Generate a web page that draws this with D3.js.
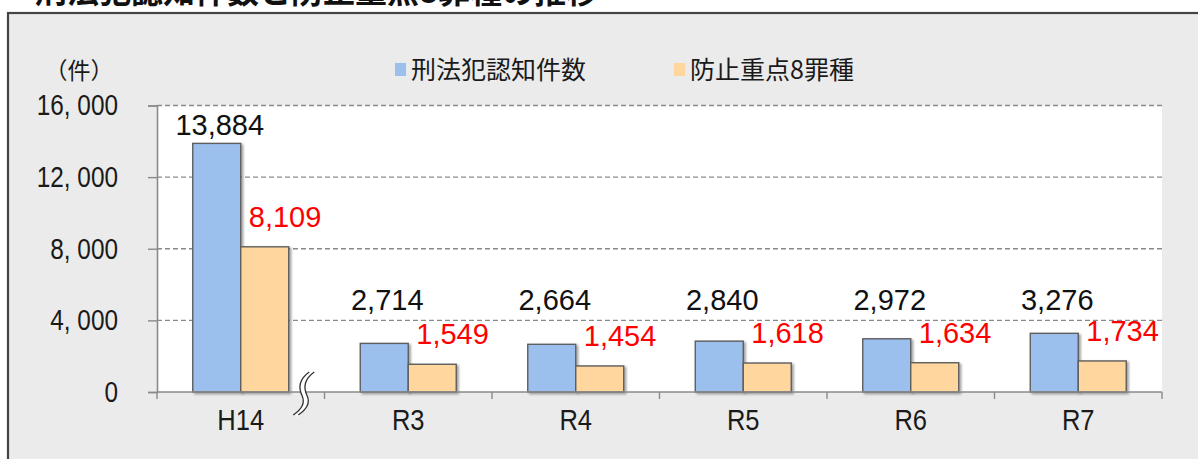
<!DOCTYPE html>
<html lang="ja">
<head>
<meta charset="UTF-8" />
<title>刑法犯認知件数と防止重点8罪種の推移</title>
<script src="https://d3js.org/d3.v7.min.js"></script>
<style>
body {
    margin: 0;
    padding: 0;
    background: #fff;
}
svg {
    display: block;
}
.jp {
    font-family: "Noto Sans CJK JP", sans-serif;
}
.num {
    font-family: "Liberation Sans", Arial, sans-serif;
}
.lbl {
    font-family: "Liberation Sans", Arial, sans-serif;
}
</style>
</head>
<body>
<svg id="chart" width="1198" height="459"></svg>

<script>
// data
const categories = ["H14", "R3", "R4", "R5", "R6", "R7"];
const seriesNames = ["刑法犯認知件数", "防止重点8罪種"];
const totalCases = [13884, 2714, 2664, 2840, 2972, 3276];
const keyCrimes = [8109, 1549, 1454, 1618, 1634, 1734];
const yTicks = [0, 4000, 8000, 12000, 16000];
const yTickLabels = ["0", "4, 000", "8, 000", "12, 000", "16, 000"];

const colors = ["#9cc0ee", "#fed69e"];
const fmt = d3.format(",");

const svg = d3.select("#chart");
const W = 1198, H = 459;

// squeeze a text horizontally (the original uses a narrow gothic face)
function condense(sel, k) {
    sel.each(function () {
        const len = this.getComputedTextLength();
        d3.select(this)
            .attr("textLength", len * k)
            .attr("lengthAdjust", "spacingAndGlyphs");
    });
}

// frame background
svg.append("rect")
    .attr("x", 8).attr("y", 13)
    .attr("width", W + 10).attr("height", H)
    .attr("fill", "#ebebeb")
    .attr("stroke", "#444")
    .attr("stroke-width", 2.2);

// title (cut off at top, as in the source image)
svg.append("text")
    .attr("class", "jp")
    .attr("x", 35).attr("y", 3)
    .attr("font-size", 32).attr("font-weight", "bold")
    .attr("fill", "#111")
    .text("刑法犯認知件数と防止重点8罪種の推移");

const plot = { left: 157, right: 1162, top: 105.5, bottom: 392 };

const x = d3.scaleBand()
    .domain(categories)
    .range([plot.left, plot.right]);

const xs = d3.scaleBand()
    .domain([0, 1])
    .range([0, x.bandwidth()])
    .paddingOuter(0.745);

const y = d3.scaleLinear()
    .domain([0, 16000])
    .range([plot.bottom, plot.top]);

// shadow for bars
const defs = svg.append("defs");
const f = defs.append("filter").attr("id", "shadow")
    .attr("x", "-20%").attr("y", "-20%").attr("width", "140%").attr("height", "140%");
f.append("feDropShadow")
    .attr("dx", 2).attr("dy", 1.5).attr("stdDeviation", 1.2)
    .attr("flood-color", "#000").attr("flood-opacity", 0.35);

// plot area
svg.append("rect")
    .attr("x", plot.left).attr("y", plot.top)
    .attr("width", plot.right - plot.left)
    .attr("height", plot.bottom - plot.top)
    .attr("fill", "#fff");

// gridlines
svg.append("g")
    .selectAll("line")
    .data(yTicks.filter(d => d > 0))
    .join("line")
    .attr("x1", plot.left).attr("x2", plot.right)
    .attr("y1", d => y(d)).attr("y2", d => y(d))
    .attr("stroke", "#8a8a8a")
    .attr("stroke-width", 1.4)
    .attr("stroke-dasharray", "5,3");

// y axis
const yAxis = d3.axisLeft(y)
    .tickValues(yTicks)
    .tickSize(9)
    .tickFormat((d, i) => yTickLabels[i]);

const gy = svg.append("g")
    .attr("transform", `translate(${plot.left},0)`)
    .call(yAxis);
gy.select(".domain").attr("stroke", "#8a8a8a").attr("stroke-width", 1.6);
gy.selectAll(".tick line").attr("stroke", "#8a8a8a").attr("stroke-width", 1.4);
gy.selectAll(".tick text")
    .attr("class", "num")
    .attr("x", -39)
    .attr("font-size", 29)
    .attr("fill", "#1a1a1a")
    .call(condense, 0.84);

// bars
const data = categories.map((c, i) => ({ cat: c, vals: [totalCases[i], keyCrimes[i]] }));

const groups = svg.append("g")
    .selectAll("g")
    .data(data)
    .join("g")
    .attr("transform", d => `translate(${x(d.cat)},0)`);

groups.selectAll("rect")
    .data(d => d.vals.map((v, k) => ({ v, k })))
    .join("rect")
    .attr("x", d => xs(d.k))
    .attr("y", d => y(d.v))
    .attr("width", xs.bandwidth())
    .attr("height", d => y(0) - y(d.v))
    .attr("fill", d => colors[d.k])
    .attr("stroke", "#5e5e5e")
    .attr("stroke-width", 1.4)
    .attr("filter", "url(#shadow)");

// value labels
groups.append("text")
    .attr("class", "lbl")
    .attr("x", xs(0) + xs.bandwidth() / 2 + 3)
    .attr("y", d => Math.min(y(d.vals[0]) - 8, y(0) - 82))
    .attr("text-anchor", "middle")
    .attr("font-size", 29)
    .attr("fill", "#111")
    .text(d => fmt(d.vals[0]));

groups.append("text")
    .attr("class", "lbl")
    .attr("x", xs(1) + 8)
    .attr("y", d => Math.min(y(d.vals[1]) - 20, y(0) - 40))
    .attr("font-size", 29)
    .attr("fill", "#ff0000")
    .text(d => fmt(d.vals[1]));

// x axis
svg.append("line")
    .attr("x1", plot.left).attr("x2", plot.right)
    .attr("y1", y(0)).attr("y2", y(0))
    .attr("stroke", "#8a8a8a").attr("stroke-width", 1.6);

const bounds = categories.map(c => x(c)).concat([x.range()[1]]);
svg.append("g")
    .selectAll("line")
    .data(bounds)
    .join("line")
    .attr("x1", d => d).attr("x2", d => d)
    .attr("y1", y(0)).attr("y2", y(0) + 7)
    .attr("stroke", "#8a8a8a").attr("stroke-width", 1.4);

svg.append("g")
    .selectAll("text")
    .data(categories)
    .join("text")
    .attr("class", "num")
    .attr("x", d => x(d) + x.bandwidth() / 2)
    .attr("y", 430)
    .attr("text-anchor", "middle")
    .attr("font-size", 29)
    .attr("fill", "#1a1a1a")
    .text(d => d)
    .call(condense, 0.88);

// axis break mark between H14 and R3
const bx = x(categories[1]) - x.bandwidth() * 0.13;
const by = y(0);
const wave = `M${bx + 9},${by - 20} C${bx - 2},${by - 12} ${bx - 2},${by - 4} ${bx + 2},${by + 4}
 C${bx + 5},${by + 11} ${bx + 2},${by + 17} ${bx - 7},${by + 23}`;
svg.append("path").attr("d", wave)
    .attr("fill", "none").attr("stroke", "#fff").attr("stroke-width", 5);
[-2.5, 2.5].forEach(dx => {
    svg.append("path").attr("d", wave)
        .attr("transform", `translate(${dx},0)`)
        .attr("fill", "none").attr("stroke", "#333").attr("stroke-width", 1.3);
});

// unit label
svg.append("text")
    .attr("class", "jp")
    .attr("x", 79).attr("y", 79)
    .attr("text-anchor", "middle")
    .attr("font-size", 23)
    .attr("fill", "#1a1a1a")
    .text("（件）");

// legend
const legendX = [395, 674];
const legend = svg.append("g")
    .selectAll("g")
    .data(seriesNames)
    .join("g")
    .attr("transform", (d, i) => `translate(${legendX[i]},0)`);
legend.append("rect")
    .attr("x", 0).attr("y", 63)
    .attr("width", 11).attr("height", 13)
    .attr("fill", (d, i) => colors[i]);
legend.append("text")
    .attr("class", "jp")
    .attr("x", 16).attr("y", 79)
    .attr("font-size", 25)
    .attr("fill", "#1a1a1a")
    .text(d => d);
</script>
</body>
</html>
